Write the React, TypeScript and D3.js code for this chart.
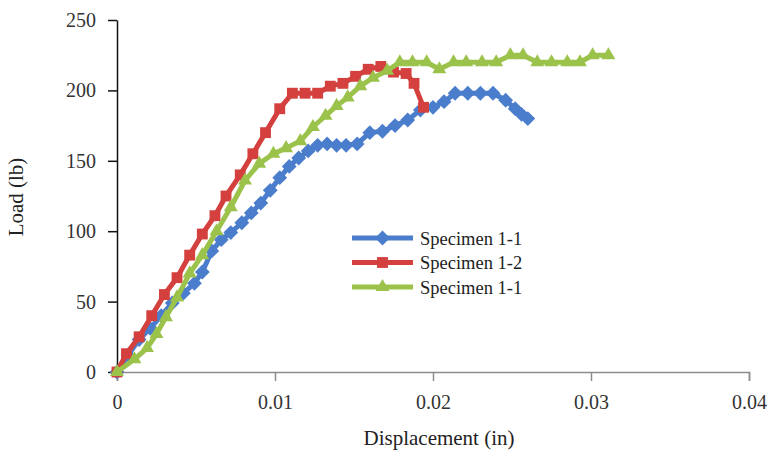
import React, { useEffect, useRef } from 'react';
import * as d3 from 'd3';

// Specimen 1-1 (blue diamonds)
const disp1 = [0, 0.0007, 0.0014, 0.0021, 0.0028, 0.0035, 0.0042, 0.0049, 0.0054, 0.006, 0.0066, 0.0072, 0.0079, 0.0085, 0.0091, 0.0097, 0.0103, 0.0109, 0.0115, 0.0121, 0.0127, 0.0133, 0.0139, 0.0145, 0.0152, 0.016, 0.0168, 0.0176, 0.0184, 0.0192, 0.02, 0.0207, 0.0214, 0.0222, 0.023, 0.0238, 0.0246, 0.0252, 0.0256, 0.026];
const load1 = [0, 12, 23, 31, 40, 49, 56, 63, 71, 86, 94, 99, 106, 113, 120, 129, 138, 146, 152, 157, 161, 162, 161, 161, 162, 170, 171, 175, 179, 186, 188, 192, 198, 198, 198, 198, 193, 187, 183, 180];

// Specimen 1-2 (red squares)
const disp2 = [0, 0.0006, 0.0014, 0.0022, 0.003, 0.0038, 0.0046, 0.0054, 0.0062, 0.0069, 0.0078, 0.0086, 0.0094, 0.0103, 0.0111, 0.0119, 0.0127, 0.0135, 0.0143, 0.0151, 0.0159, 0.0167, 0.0175, 0.0183, 0.0188, 0.0194];
const load2 = [0, 13, 25, 40, 55, 67, 83, 98, 111, 125, 140, 155, 170, 187, 198, 198, 198, 203, 205, 210, 215, 217, 213, 212, 205, 188];

// Specimen 1-1 again (green triangles)
const disp3 = [0, 0.0011, 0.0019, 0.0025, 0.0031, 0.0038, 0.0046, 0.0054, 0.0063, 0.0072, 0.0081, 0.009, 0.0099, 0.0107, 0.0116, 0.0124, 0.0132, 0.0139, 0.0146, 0.0154, 0.0162, 0.0171, 0.0179, 0.0187, 0.0196, 0.0204, 0.0213, 0.0221, 0.0231, 0.024, 0.0249, 0.0257, 0.0266, 0.0275, 0.0285, 0.0293, 0.0301, 0.0311];
const load3 = [0, 9, 17, 27, 39, 53, 70, 83, 100, 117, 136, 148, 155, 159, 164, 174, 182, 189, 195, 203, 209, 214, 220, 220, 220, 215, 220, 220, 220, 220, 225, 225, 220, 220, 220, 220, 225, 225];

const seriesNames = ['Specimen 1-1', 'Specimen 1-2', 'Specimen 1-1'];
const xTicks = [0, 0.01, 0.02, 0.03, 0.04];
const yTicks = [0, 50, 100, 150, 200, 250];

const W = 777;
const H = 452;
const FONT = '"Liberation Serif", "Times New Roman", serif';

const App = () => {
  const svgRef = useRef<SVGSVGElement>(null);

  useEffect(() => {
    const svg = d3.select(svgRef.current);
    svg.selectAll('*').remove();

    const x = d3.scaleLinear().domain([0, 0.04]).range([117, 749]);
    const y = d3.scaleLinear().domain([0, 250]).range([372, 20]);

    const series = [
      { name: seriesNames[0], xs: disp1, ys: load1, color: '#4a7dcc', symbol: d3.symbolDiamond2, size: 140 },
      { name: seriesNames[1], xs: disp2, ys: load2, color: '#d4403e', symbol: d3.symbolSquare2, size: 150 },
      { name: seriesNames[2], xs: disp3, ys: load3, color: '#9bc34b', symbol: d3.symbolTriangle2, size: 140 },
    ];

    // x axis (grey)
    const xAxis = svg.append('g').attr('transform', `translate(0,${y(0)})`)
      .call(d3.axisBottom(x).tickValues(xTicks).tickSize(9).tickFormat((d) => (d === 0 ? '0' : d3.format('.2f')(d as number))));
    xAxis.select('.domain').attr('stroke', '#8c8c8c').attr('stroke-width', 1.5);
    xAxis.selectAll('.tick line').attr('stroke', '#8c8c8c').attr('stroke-width', 1.5);
    xAxis.selectAll('.tick text').attr('font-family', FONT).attr('font-size', 20).attr('fill', '#333').attr('dy', '1.25em');

    // y axis (black)
    const yAxis = svg.append('g').attr('transform', `translate(${x(0)},0)`)
      .call(d3.axisLeft(y).tickValues(yTicks).tickSize(9).tickSizeOuter(0).tickPadding(12));
    yAxis.select('.domain').attr('stroke', '#111').attr('stroke-width', 1.5);
    yAxis.selectAll('.tick line').attr('stroke', '#111').attr('stroke-width', 1.5);
    yAxis.selectAll('.tick text').attr('font-family', FONT).attr('font-size', 20).attr('fill', '#333');

    // lines + markers
    series.forEach((s) => {
      const pts = s.xs.map((d, i) => [d, s.ys[i]] as [number, number]);
      svg.append('path')
        .datum(pts)
        .attr('fill', 'none')
        .attr('stroke', s.color)
        .attr('stroke-width', 5)
        .attr('stroke-linejoin', 'round')
        .attr('d', d3.line<[number, number]>().x((d) => x(d[0])).y((d) => y(d[1])));
      svg.append('g')
        .selectAll('path')
        .data(pts)
        .join('path')
        .attr('transform', (d) => `translate(${x(d[0])},${y(d[1])})`)
        .attr('d', d3.symbol().type(s.symbol).size(s.size)())
        .attr('fill', s.color);
    });

    // legend
    const legend = svg.append('g');
    series.forEach((s, i) => {
      const ly = 238 + i * 24.5;
      legend.append('line')
        .attr('x1', 352).attr('x2', 413).attr('y1', ly).attr('y2', ly)
        .attr('stroke', s.color).attr('stroke-width', 5);
      legend.append('path')
        .attr('transform', `translate(382.5,${ly})`)
        .attr('d', d3.symbol().type(s.symbol).size(s.size)())
        .attr('fill', s.color);
      legend.append('text')
        .attr('x', 420).attr('y', ly + 6.5)
        .attr('font-family', FONT).attr('font-size', 18.5).attr('fill', '#222')
        .text(s.name);
    });

    // axis titles
    svg.append('text')
      .attr('x', 439).attr('y', 445)
      .attr('text-anchor', 'middle')
      .attr('font-family', FONT).attr('font-size', 21).attr('fill', '#222')
      .text('Displacement (in)');
    svg.append('text')
      .attr('transform', 'translate(23,197) rotate(-90)')
      .attr('text-anchor', 'middle')
      .attr('font-family', FONT).attr('font-size', 21).attr('fill', '#222')
      .text('Load (lb)');
  }, []);

  return (
    <svg ref={svgRef} width={W} height={H} style={{ position: 'absolute', left: 0, top: 0, background: '#fff' }} />
  );
};

export default App;
